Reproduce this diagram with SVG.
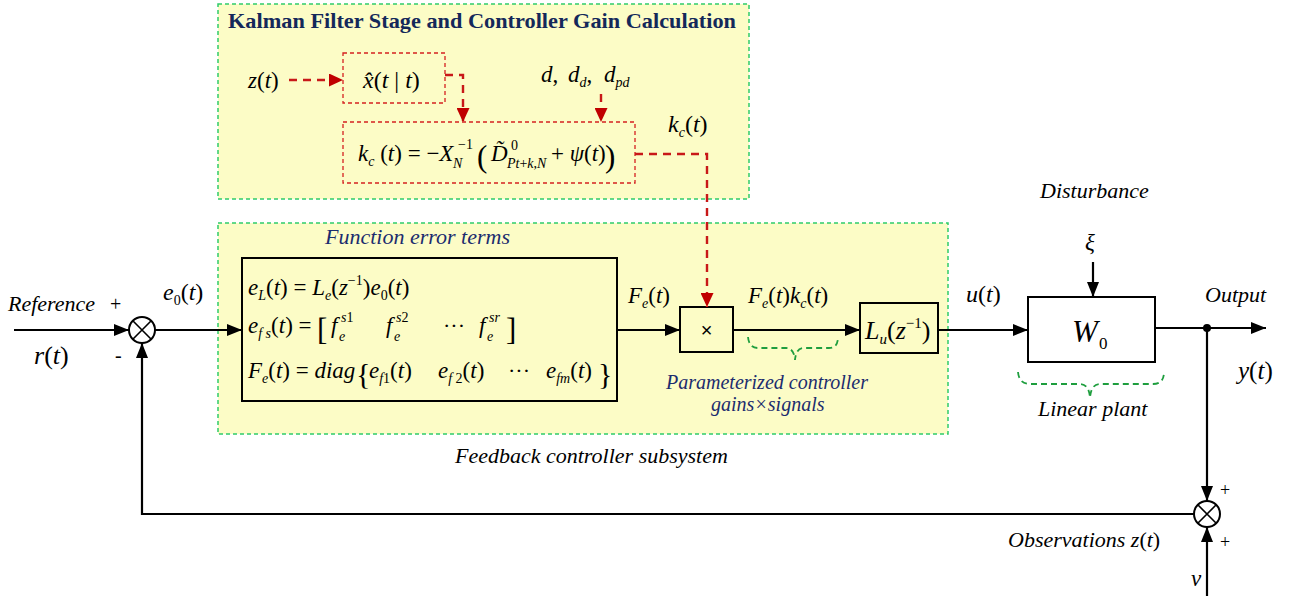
<svg xmlns="http://www.w3.org/2000/svg" width="1291" height="596" viewBox="0 0 1291 596" font-family="Liberation Serif, DejaVu Serif, serif">
<defs>
<marker id="ab" markerUnits="userSpaceOnUse" markerWidth="15" markerHeight="12" refX="15" refY="6" orient="auto"><path d="M0,0 L15,6 L0,12 z" fill="#000"/></marker>
<marker id="ar" markerUnits="userSpaceOnUse" markerWidth="14" markerHeight="13" refX="14" refY="6.5" orient="auto"><path d="M0,0 L14,6.5 L0,13 z" fill="#C00000"/></marker>
<style>
.panel{fill:#FCFCC6;stroke:#2FCB6A;stroke-width:1.5;stroke-dasharray:4,3}
.rbox{fill:none;stroke:#D42020;stroke-width:1.3;stroke-dasharray:4,3}
.box{fill:none;stroke:#000;stroke-width:2}
.wl{fill:#fff;stroke:#000;stroke-width:2}
.ln{fill:none;stroke:#000;stroke-width:2.2}
.rl{fill:none;stroke:#C81818;stroke-width:2.4;stroke-dasharray:8,6}
.gb{fill:none;stroke:#1E9E3E;stroke-width:1.8;stroke-dasharray:6,4}
text{fill:#000}
.it{font-style:italic;font-size:22px}
.nv{font-style:italic;font-size:20px;fill:#1B2C6E}
.m{font-style:italic;font-size:23px}
.u{font-style:normal}
.sb{font-size:14px}
.tt{font-weight:bold;font-size:21px;fill:#14285A}
</style>
</defs>

<g id="kalman-panel">
<rect class="panel" x="218" y="4" width="531" height="195"/>
<text class="tt" x="228" y="28" textLength="508" lengthAdjust="spacingAndGlyphs">Kalman Filter Stage and Controller Gain Calculation</text>
</g>

<g id="controller-panel">
<rect class="panel" x="218" y="223" width="730" height="211"/>
<text class="nv" x="325" y="244" style="font-size:22px">Function error terms</text>
</g>

<g id="z-input">
<text class="m" x="248" y="88">z<tspan class="u">(</tspan>t<tspan class="u">)</tspan></text>
</g>

<g id="xhat">
<rect class="rbox" x="343" y="53" width="102" height="50"/>
<text class="m" x="363" y="88" style="font-size:24px">x̂<tspan class="u">(</tspan>t<tspan class="u"> | </tspan>t<tspan class="u">)</tspan></text>
</g>

<g id="d-inputs">
<text class="m" x="541" y="82">d<tspan class="u">,</tspan></text>
<text class="m" x="568" y="82">d<tspan class="sb" dy="5">d</tspan><tspan class="u" dy="-5">,</tspan></text>
<text class="m" x="604" y="82">d<tspan class="sb" dy="5">pd</tspan></text>
</g>

<g id="kc-box">
<rect class="rbox" x="343" y="122" width="292" height="61"/>
<text class="m" x="358" y="161">k<tspan class="sb" dy="5">c</tspan><tspan class="u" dy="-5"> (</tspan>t<tspan class="u">) = −</tspan>X</text>
<text class="u sb" x="458" y="149">−1</text>
<text class="m sb" x="453" y="168">N</text>
<text class="u" x="477" y="167" style="font-size:31px">(</text>
<text class="m" x="491" y="161">D̃</text>
<text class="u sb" x="511" y="150">0</text>
<text class="m sb" x="507" y="168">Pt<tspan class="u">+</tspan>k<tspan class="u">,</tspan>N</text>
<text class="m" x="551" y="161"><tspan class="u">+ </tspan>ψ<tspan class="u">(</tspan>t<tspan class="u">)</tspan></text>
<text class="u" x="605" y="167" style="font-size:31px">)</text>
</g>

<g id="kc-label">
<text class="m" x="668" y="132" style="font-size:24px">k<tspan class="sb" dy="5">c</tspan><tspan class="u" dy="-5">(</tspan>t<tspan class="u">)</tspan></text>
</g>

<g id="sum1">
<circle class="wl" cx="142" cy="330" r="13"/>
<path class="ln" d="M132.8,320.8 L151.2,339.2 M151.2,320.8 L132.8,339.2" style="stroke-width:1.6"/>
</g>

<g id="reference">
<text class="it" x="8" y="311">Reference</text>
<text class="u" x="110" y="311" style="font-size:20px">+</text>
<text class="m" x="34" y="364" style="font-size:26px">r<tspan class="u">(</tspan>t<tspan class="u">)</tspan></text>
<text class="u" x="115" y="362" style="font-size:20px">-</text>
<text class="m" x="163" y="300" style="font-size:24px">e<tspan class="sb u" dy="5">0</tspan><tspan class="u" dy="-5">(</tspan>t<tspan class="u">)</tspan></text>
</g>

<g id="error-terms">
<rect class="box" x="242" y="258" width="375" height="143"/>
<text class="m" x="248" y="295">e<tspan class="sb" dy="5">L</tspan><tspan class="u" dy="-5">(</tspan>t<tspan class="u">) = </tspan>L<tspan class="sb" dy="5">e</tspan><tspan class="u" dy="-5">(</tspan>z<tspan class="sb u" dy="-10">−1</tspan><tspan class="u" dy="10">)</tspan>e<tspan class="sb u" dy="5">0</tspan><tspan class="u" dy="-5">(</tspan>t<tspan class="u">)</tspan></text>
<text class="m" x="248" y="333">e<tspan class="sb" dy="5">f s</tspan><tspan class="u" dy="-5">(</tspan>t<tspan class="u">) =</tspan></text>
<text class="u" x="317" y="340" style="font-size:31px">[</text>
<text class="m" x="331" y="333">f</text><text class="m sb" x="339" y="341">e</text><text class="m sb" x="341" y="322">s<tspan class="u">1</tspan></text>
<text class="m" x="386" y="333">f</text><text class="m sb" x="394" y="341">e</text><text class="m sb" x="396" y="322">s<tspan class="u">2</tspan></text>
<text class="u" x="443" y="333" style="font-size:22px">···</text>
<text class="m" x="479" y="333">f</text><text class="m sb" x="487" y="341">e</text><text class="m sb" x="489" y="322">sr</text>
<text class="u" x="506" y="340" style="font-size:31px">]</text>
<text class="m" x="248" y="378">F<tspan class="sb" dy="5">e</tspan><tspan class="u" dy="-5">(</tspan>t<tspan class="u">) = </tspan>diag</text>
<text class="u" x="356" y="384" style="font-size:30px">{</text>
<text class="m" x="369" y="378">e<tspan class="sb" dy="5">f<tspan class="u">1</tspan></tspan><tspan class="u" dy="-5">(</tspan>t<tspan class="u">)</tspan></text>
<text class="m" x="438" y="378">e<tspan class="sb" dy="5">f <tspan class="u">2</tspan></tspan><tspan class="u" dy="-5">(</tspan>t<tspan class="u">)</tspan></text>
<text class="u" x="508" y="378" style="font-size:22px">···</text>
<text class="m" x="546" y="378">e<tspan class="sb" dy="5">fm</tspan><tspan class="u" dy="-5">(</tspan>t<tspan class="u">)</tspan></text>
<text class="u" x="598" y="384" style="font-size:30px">}</text>
</g>

<g id="multiplier">
<rect class="box" x="680" y="307" width="53" height="45"/>
<text class="u" x="706.5" y="337" text-anchor="middle" style="font-size:20px;font-family:'Liberation Sans',sans-serif">×</text>
<text class="m" x="628" y="303">F<tspan class="sb" dy="5">e</tspan><tspan class="u" dy="-5">(</tspan>t<tspan class="u">)</tspan></text>
<text class="m" x="748" y="303">F<tspan class="sb" dy="5">e</tspan><tspan class="u" dy="-5">(</tspan>t<tspan class="u">)</tspan>k<tspan class="sb" dy="5">c</tspan><tspan class="u" dy="-5">(</tspan>t<tspan class="u">)</tspan></text>
<text class="nv" x="666" y="389">Parameterized controller</text>
<text class="nv" x="711" y="411">gains×signals</text>
</g>

<g id="lu-block">
<rect class="box" x="860" y="303" width="78" height="50"/>
<text class="m" x="865" y="339" style="font-size:26px">L<tspan class="sb" dy="5" style="font-size:15px">u</tspan><tspan class="u" dy="-5">(</tspan>z<tspan class="u" dy="-11" style="font-size:15px">−1</tspan><tspan class="u" dy="11">)</tspan></text>
<text class="m" x="966" y="302" style="font-size:24px">u<tspan class="u">(</tspan>t<tspan class="u">)</tspan></text>
</g>

<g id="plant">
<rect class="box" x="1028" y="297" width="127" height="65"/>
<text class="m" x="1072" y="342" style="font-size:31px">W</text>
<text class="u" x="1099" y="349" style="font-size:17px">0</text>
<text class="it" x="1040" y="198">Disturbance</text>
<text class="m" x="1085" y="250">ξ</text>
<text class="it" x="1038" y="416">Linear plant</text>
<text class="it" x="1205" y="302">Output</text>
<text class="m" x="1238" y="379" style="font-size:25px">y<tspan class="u">(</tspan>t<tspan class="u">)</tspan></text>
</g>

<g id="sum2">
<circle class="wl" cx="1207" cy="514" r="13"/>
<path class="ln" d="M1197.8,504.8 L1216.2,523.2 M1216.2,504.8 L1197.8,523.2" style="stroke-width:1.6"/>
<text class="u" x="1220" y="496" style="font-size:18px">+</text>
<text class="u" x="1220" y="548" style="font-size:18px">+</text>
<text class="it" x="1008" y="547">Observations z<tspan class="u">(</tspan>t<tspan class="u">)</tspan></text>
<text class="m" x="1191" y="586">v</text>
</g>

<g id="subsystem-label">
<text class="it" x="455" y="463">Feedback controller subsystem</text>
</g>

<g id="connectors">
<line class="ln" x1="14" y1="330" x2="129" y2="330" marker-end="url(#ab)"/>
<line class="ln" x1="155" y1="330" x2="242" y2="330" marker-end="url(#ab)"/>
<line class="ln" x1="617" y1="330" x2="680" y2="330" marker-end="url(#ab)"/>
<line class="ln" x1="733" y1="330" x2="860" y2="330" marker-end="url(#ab)"/>
<line class="ln" x1="938" y1="330" x2="1028" y2="330" marker-end="url(#ab)"/>
<line class="ln" x1="1093" y1="262" x2="1093" y2="297" marker-end="url(#ab)"/>
<line class="ln" x1="1155" y1="328" x2="1266" y2="328" marker-end="url(#ab)"/>
<circle cx="1207" cy="328" r="4" fill="#000"/>
<line class="ln" x1="1207" y1="328" x2="1207" y2="501" marker-end="url(#ab)"/>
<line class="ln" x1="1207" y1="596" x2="1207" y2="527" marker-end="url(#ab)"/>
<path class="ln" d="M1194,514 L142,514 L142,343" marker-end="url(#ab)"/>
<line class="rl" x1="289" y1="80" x2="343" y2="80" marker-end="url(#ar)"/>
<path class="rl" d="M445,75 L463,75 L463,122" marker-end="url(#ar)"/>
<line class="rl" x1="601" y1="94" x2="601" y2="122" marker-end="url(#ar)"/>
<path class="rl" d="M635,154 L707,154 L707,307" marker-end="url(#ar)"/>
<path class="gb" d="M748,337 Q749,348 758,348 L786,348 Q794,348 795,360 Q796,348 804,348 L829,348 Q838,348 838,337"/>
<path class="gb" d="M1018,372 Q1019,384 1030,384 L1080,384 Q1089,384 1090,398 Q1091,384 1100,384 L1153,384 Q1164,384 1164,372"/>
</g>
</svg>
